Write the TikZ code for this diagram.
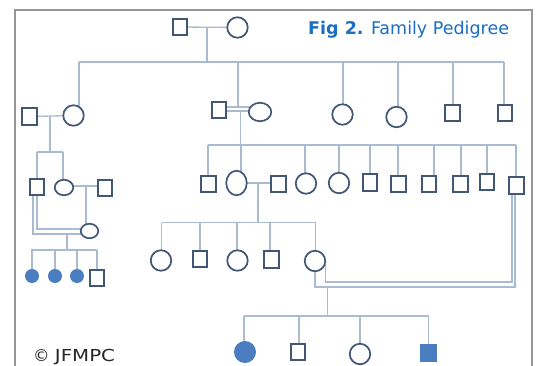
\documentclass[tikz,border=0pt]{standalone}
\usepackage{fontspec}
\usepackage{graphicx}
\setmainfont{DejaVu Sans}
\usetikzlibrary{shapes.geometric,backgrounds}
\definecolor{symc}{RGB}{66,86,118}
\definecolor{conc}{RGB}{170,186,208}
\definecolor{fillc}{RGB}{74,126,193}
\definecolor{framec}{RGB}{150,150,150}
\definecolor{titc}{RGB}{28,110,192}
\begin{document}
\begin{tikzpicture}[x=1pt,y=-1pt,
  sq/.style={draw=symc,line width=1.7pt,rectangle,minimum width=14.5pt,minimum height=16.5pt,inner sep=0pt,fill=white},
  ci/.style={draw=symc,line width=1.7pt,circle,minimum size=20.5pt,inner sep=0pt,fill=white},
  el/.style={draw=symc,line width=1.7pt,ellipse,inner sep=0pt,fill=white},
  fci/.style={fill=fillc,circle,inner sep=0pt,minimum size=14pt},
  fsq/.style={fill=fillc,rectangle,inner sep=0pt,minimum width=17pt,minimum height=18pt},
  conn/.style={draw=conc,line width=1.3pt}]
\useasboundingbox (0,0) rectangle (537,366);
\draw[framec,line width=1.5pt] (15,370) -- (15,10) -- (532,10) -- (532,370);

% titles
\node[anchor=base west,inner sep=0pt,text=titc,font=\fontsize{17.5}{20}\selectfont] (title) at (308,35) {\textbf{Fig 2.} Family Pedigree};
\node[anchor=base west,inner sep=0pt,text=black!85,font=\fontsize{16.5}{19}\selectfont] (copy) at (33,361) {© \scalebox{1.2}[1]{JFMPC}};

% generation 1
\node[sq] (g1m) at (180,27) {};
\node[ci] (g1f) at (237.5,27.5) {};
% generation 2
\node[sq] (g2a) at (29.5,116.5) {};
\node[ci] (g2b) at (73.5,115.5) {};
\node[sq] (g2c) at (219,110) {};
\node[el,minimum width=22.5pt,minimum height=18.5pt] (g2d) at (260,112) {};
\node[ci] (g2e) at (342.5,114.5) {};
\node[ci] (g2f) at (396.5,117) {};
\node[sq] (g2g) at (452.5,113) {};
\node[sq] (g2h) at (505,113) {};
% generation 3 left
\node[sq] (g3a) at (37,187) {};
\node[el,minimum width=18.5pt,minimum height=15.5pt] (g3b) at (64,187.5) {};
\node[sq] (g3c) at (105,188) {};
\node[el,minimum width=17.5pt,minimum height=14.5pt] (g4a) at (89.5,231) {};
\node[fci] (g5a) at (32,276) {};
\node[fci] (g5b) at (55,276) {};
\node[fci] (g5c) at (77,276) {};
\node[sq] (g5d) at (97,278) {};
% generation 3 middle
\node[sq] (g3d) at (208.5,184) {};
\node[el,minimum width=20.5pt,minimum height=24.5pt] (g3e) at (236.5,183) {};
\node[sq] (g3f) at (278.5,184) {};
\node[ci] (g3g) at (306,183.5) {};
\node[ci] (g3h) at (339,183) {};
\node[sq] (g3i) at (370,182.5) {};
\node[sq] (g3j) at (398.5,184) {};
\node[sq] (g3k) at (429,184) {};
\node[sq] (g3l) at (460.5,184) {};
\node[sq] (g3m) at (487,182) {};
\node[sq] (g3n) at (516.5,185.5) {};
% generation 4 middle
\node[ci] (g4b) at (161,260.5) {};
\node[sq] (g4c) at (200,259) {};
\node[ci] (g4d) at (237.5,260.5) {};
\node[sq] (g4e) at (271.5,259.5) {};
\node[ci] (g4f) at (315,261) {};
% generation 5
\node[fci,minimum size=22pt] (g6a) at (245,352) {};
\node[sq] (g6b) at (298,352) {};
\node[ci] (g6c) at (360,354) {};
\node[fsq] (g6d) at (428,353) {};

\begin{scope}[on background layer]
\fill[white] (0,0) rectangle (537,366);
% gen 1 couple
\draw[conn] (g1m) -- (g1f);
\coordinate (m1) at (207,27.3);
\coordinate (s1a) at (79,62);
\coordinate (s1b) at (504,62);
\draw[conn] (m1) -- (m1 |- s1a);
\draw[conn] (s1a) -- (s1b);
\draw[conn] (s1a) -- (s1a |- g2b.center);
\coordinate (d1c) at (238,62);
\draw[conn] (d1c) -- (238,107);
\draw[conn] (343,62) -- (343,0 |- g2e.center);
\draw[conn] (398,62) -- (398,0 |- g2f.center);
\draw[conn] (453,62) -- (453,0 |- g2g.center);
\draw[conn] (s1b) -- (s1b |- g2h.center);
% gen 2 left couple
\draw[conn] (g2a) -- (g2b);
\coordinate (m2) at (50,116);
\draw[conn] (m2) -- (50,152);
\draw[conn] (37,152) -- (63,152);
\draw[conn] (37,152) -- (g3a.center);
\draw[conn] (63,152) -- (63,0 |- g3b.center);
% gen 2 middle couple (consanguineous)
\draw[conn] (g2c.center |- 0,107) -- (g2d.center |- 0,107);
\draw[conn] (g2c.center |- 0,111) -- (g2d.center |- 0,111);
\coordinate (m3) at (240.7,111);
\draw[conn] (m3) -- (240.7,145);
\draw[conn] (208,145) -- (516,145);
\draw[conn] (208,145) -- (208,0 |- g3d.center);
\draw[conn] (241,145) -- (241,0 |- g3e.center);
\draw[conn] (305,145) -- (305,0 |- g3g.center);
\draw[conn] (339,145) -- (339,0 |- g3h.center);
\draw[conn] (370,145) -- (370,0 |- g3i.center);
\draw[conn] (398,145) -- (398,0 |- g3j.center);
\draw[conn] (434,145) -- (434,0 |- g3k.center);
\draw[conn] (461,145) -- (461,0 |- g3l.center);
\draw[conn] (487,145) -- (487,0 |- g3m.center);
\draw[conn] (516,145) -- (516,0 |- g3n.center);
% gen 3 middle couple
\draw[conn] (g3e.center |- 0,183) -- (g3f.center |- 0,183);
\coordinate (m4) at (258,183);
\draw[conn] (m4) -- (258,222.7);
\draw[conn] (161.7,222.7) -- (315.7,222.7);
\draw[conn] (161.7,222.7) -- (161.7,0 |- g4b.center);
\draw[conn] (200,222.7) -- (g4c.center);
\draw[conn] (237,222.7) -- (237,0 |- g4d.center);
\draw[conn] (270,222.7) -- (270,0 |- g4e.center);
\draw[conn] (315.7,222.7) -- (315.7,0 |- g4f.center);
% gen 3 left couple
\draw[conn] (g3b.center |- 0,186) -- (g3c.center |- 0,186);
\coordinate (m5) at (86,186);
\draw[conn] (m5) -- (86,0 |- g4a.center);
% consanguineous g3a - g4a
\draw[conn] ([xshift=-4pt]g3a.center) |- (g4a.center |- 0,234);
\draw[conn] (g3a.center) |- (g4a.center |- 0,229);
\coordinate (m6) at (67,234);
\draw[conn] (m6) -- (67,250);
\draw[conn] (31,250) -- (97,250);
\draw[conn] (32,250) -- (g5a.center);
\draw[conn] (55,250) -- (g5b.center);
\draw[conn] (77,250) -- (g5c.center);
\draw[conn] (97,250) -- (g5d.center);
% consanguineous g4f - g3n
\draw[conn] (g4f.-17) |- (512,282) -- ([xshift=-4.5pt]g3n.center);
\draw[conn] (g4f.center) |- (515,287) -- ([xshift=-1.5pt]g3n.center);
\coordinate (m7) at (327.7,287);
\draw[conn] (m7) -- (327.7,316);
\draw[conn] (244,316) -- (428.5,316);
\draw[conn] (244,316) -- (244,0 |- g6a.center);
\draw[conn] (299,316) -- (299,0 |- g6b.center);
\draw[conn] (360,316) -- (g6c.center);
\draw[conn] (428.5,316) -- (428.5,0 |- g6d.center);
\end{scope}
\end{tikzpicture}
\end{document}
